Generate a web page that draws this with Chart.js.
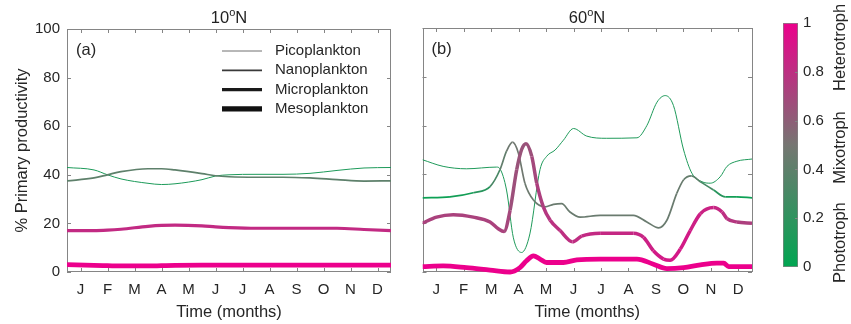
<!DOCTYPE html>
<html>
<head>
<meta charset="utf-8">
<script src="https://cdn.jsdelivr.net/npm/chart.js@4.4.1/dist/chart.umd.min.js"></script>
<style>
body { margin: 0; background: #fff; width: 851px; height: 324px; position: relative; overflow: hidden; font-family: "Liberation Sans", Arial, sans-serif; }
canvas { position: absolute; top: 0; }
.ttl { position: absolute; top: 6px; font-size: 16.5px; color: #222; transform: translateX(-50%); white-space: nowrap; }
.ttl sup { font-size: 11px; }
</style>
</head>
<body>
<canvas id="pa" width="400" height="324" style="left:0"></canvas>
<canvas id="pb" width="370" height="324" style="left:400px"></canvas>
<canvas id="cb" width="81" height="324" style="left:770px"></canvas>
<div class="ttl" style="left:229px">10<sup>o</sup>N</div>
<div class="ttl" style="left:587px">60<sup>o</sup>N</div>
<script>
// axis labels
const months = ['J', 'F', 'M', 'A', 'M', 'J', 'J', 'A', 'S', 'O', 'N', 'D'];
const monthTicks = [0.5, 1.5, 2.5, 3.5, 4.5, 5.5, 6.5, 7.5, 8.5, 9.5, 10.5, 11.5];
const yTicks = [0, 20, 40, 60, 80, 100];
const sizeNames = ['Picoplankton', 'Nanoplankton', 'Microplankton', 'Mesoplankton'];

// 10N panel (time in months, % primary productivity)
const aTime  = [0, 1, 1.5, 2, 3, 3.5, 4, 5, 5.5, 6, 7, 8, 9, 10, 11, 12];
const aPico  = [43, 42, 40, 38.3, 36.5, 36, 36.3, 38, 39.5, 40, 40.2, 40.2, 40.6, 41.8, 42.8, 43];
const aNano  = [37.5, 38.7, 40, 41.3, 42.5, 42.5, 42, 40.5, 39.6, 39.2, 39, 39, 38.7, 38, 37.4, 37.5];
const aMicro = [17, 17, 17.2, 17.6, 18.8, 19.2, 19.3, 19, 18.6, 18.3, 18, 18, 18, 18, 17.5, 17];
const aMeso  = [3, 2.7, 2.6, 2.5, 2.5, 2.6, 2.7, 2.8, 2.8, 2.8, 2.8, 2.8, 2.8, 2.8, 2.8, 2.8];
const aTrophic = [0.12, 0.4, 0.82, 1];

// 60N panel
const bPicoT = [0, 0.75, 1.6, 2.7, 2.82, 3.06, 3.31, 3.61, 3.91, 4.28, 4.52, 4.83, 5.13, 5.5, 5.98, 6.71, 7.81, 8.17, 8.54, 8.84, 9.14, 9.51, 9.81, 10.18, 10.48, 10.84, 11.09, 11.45, 12];
const bPicoY = [46, 43.3, 42.3, 43, 42.3, 33.6, 14, 8, 15.6, 42, 47.4, 50, 54, 58.8, 55.7, 54.8, 55, 60, 69.6, 72.3, 68.2, 50, 40.5, 37, 36.4, 39, 43.3, 45.4, 46.3];
const bPicoTrophic = 0.13;

const bNanoT = [0, 1, 1.85, 2.46, 2.82, 3.06, 3.28, 3.49, 3.73, 4.04, 4.46, 4.77, 5.07, 5.37, 5.74, 6.47, 7.68, 8.17, 8.6, 8.9, 9.26, 9.51, 9.79, 10.12, 10.6, 11.03, 11.45, 12];
const bNanoY = [30.4, 30.8, 32.5, 35, 41.9, 49.5, 53.2, 48.8, 36.4, 29.5, 26.7, 27.7, 28, 24.6, 22.5, 23.2, 23.2, 20.5, 18.1, 21.2, 32.2, 37.8, 39.4, 37, 33.6, 30.8, 30.8, 30.4];
const bNanoTrophic = [0.05, 0.06, 0.1, 0.25, 0.38, 0.45, 0.48, 0.48, 0.47, 0.45, 0.45, 0.45, 0.45, 0.45, 0.45, 0.45, 0.45, 0.45, 0.45, 0.45, 0.45, 0.44, 0.42, 0.35, 0.25, 0.1, 0.06, 0.05];

const bMicroT = [0, 0.51, 1.12, 1.85, 2.46, 2.76, 2.97, 3.19, 3.43, 3.61, 3.77, 3.98, 4.16, 4.4, 4.65, 5.01, 5.46, 5.8, 6.47, 7.68, 8.05, 8.41, 8.78, 9.02, 9.39, 9.75, 10.12, 10.6, 10.91, 11.09, 11.45, 12];
const bMicroY = [20, 22.5, 23.5, 22.5, 20.5, 17.7, 16.6, 25.3, 41.9, 50.2, 52.6, 47.4, 36.4, 26.7, 21.2, 17, 12.4, 14.7, 15.9, 15.9, 14.2, 8.7, 5.3, 4.8, 9.4, 17, 23.9, 26.4, 24.6, 21.9, 20.5, 20];
const bMicroTrophic = [0.72, 0.72, 0.72, 0.72, 0.72, 0.72, 0.72, 0.68, 0.65, 0.65, 0.65, 0.67, 0.72, 0.75, 0.78, 0.8, 0.8, 0.82, 0.83, 0.83, 0.85, 0.88, 0.9, 0.9, 0.9, 0.88, 0.86, 0.85, 0.82, 0.78, 0.75, 0.72];

const bMesoT = [0, 0.75, 1.6, 2.46, 3.19, 3.55, 3.79, 4.04, 4.28, 4.52, 5.13, 5.62, 6.47, 7.81, 8.41, 8.9, 9.51, 10.12, 10.72, 10.97, 11.15, 12];
const bMesoY = [2.2, 2.5, 1.8, 0.8, 0, 1.8, 4.6, 6.6, 5.3, 3.9, 3.9, 5, 5.3, 5.3, 3.2, 1.4, 1.8, 2.9, 3.6, 3.6, 2.2, 2.2];
const bMesoTrophic = 1;

// colour bar
const cbTicks = [0, 0.2, 0.4, 0.6, 0.8, 1];
const cbNames = ['Phototroph', 'Mixotroph', 'Heterotroph'];
const cbNamePos = [0.1, 0.49, 0.9];

const FONT = '"Liberation Sans", Arial, sans-serif';
const TXT = '#262626';
const BOX = '#858585';

function cmap(t) {
  const g = [0, 166, 81], m = [118, 118, 114], p = [236, 0, 140];
  let a, b, f;
  if (t <= 0.5) { a = g; b = m; f = t / 0.5; } else { a = m; b = p; f = (t - 0.5) / 0.5; }
  const c = a.map((v, i) => Math.round(v + (b[i] - v) * f));
  return 'rgb(' + c.join(',') + ')';
}

function series(xs, ys, troph, width, name) {
  const tr = Array.isArray(troph) ? troph : xs.map(() => troph);
  return {
    label: name,
    data: xs.map((x, i) => ({ x: x, y: ys[i] })),
    borderColor: cmap(tr[0]),
    borderWidth: width,
    pointRadius: 0,
    cubicInterpolationMode: 'monotone',
    clip: { left: 0, top: 0, right: 0, bottom: 5 },
    segment: { borderColor: c => cmap((tr[c.p0DataIndex] + tr[c.p1DataIndex]) / 2) }
  };
}

const widths = [1, 1.7, 3.2, 4.8];

const boxPlugin = {
  id: 'box',
  beforeDatasetsDraw(chart) {
    const { ctx, chartArea: a, scales: { x, y } } = chart;
    ctx.save();
    ctx.strokeStyle = BOX;
    ctx.lineWidth = 1;
    ctx.strokeRect(Math.round(a.left) + 0.5, Math.round(a.top) + 0.5, Math.round(a.width) - 1, Math.round(a.height) - 1);
    ctx.beginPath();
    monthTicks.forEach(m => {
      const px = Math.round(x.getPixelForValue(m)) + 0.5;
      ctx.moveTo(px, a.bottom); ctx.lineTo(px, a.bottom - 4);
      ctx.moveTo(px, a.top); ctx.lineTo(px, a.top + 4);
    });
    yTicks.forEach(v => {
      const py = Math.round(y.getPixelForValue(v)) + 0.5;
      ctx.moveTo(a.left, py); ctx.lineTo(a.left + 4, py);
      ctx.moveTo(a.right, py); ctx.lineTo(a.right - 4, py);
    });
    ctx.stroke();
    ctx.restore();
  }
};

const tagPlugin = {
  id: 'tag',
  afterDraw(chart, args, opts) {
    const { ctx, chartArea: a } = chart;
    ctx.save();
    ctx.fillStyle = TXT;
    ctx.font = '16.5px ' + FONT;
    ctx.textBaseline = 'middle';
    ctx.fillText(opts.text, a.left + 9, a.top + 21);
    if (opts.legend) {
      ctx.font = '15px ' + FONT;
      const cols = ['#707070', '#3a3a3a', '#1a1a1a', '#111'];
      sizeNames.forEach((n, i) => {
        const yy = a.top + 22 + i * 19.3;
        ctx.strokeStyle = cols[i];
        ctx.lineWidth = widths[i] + (i === 3 ? 0.5 : 0);
        ctx.beginPath();
        ctx.moveTo(a.left + 155, yy); ctx.lineTo(a.left + 195, yy);
        ctx.stroke();
        ctx.fillText(n, a.left + 208, yy);
      });
    }
    ctx.restore();
  }
};

function xScale() {
  return {
    type: 'linear', min: 0, max: 12,
    afterBuildTicks: s => { s.ticks = monthTicks.map(v => ({ value: v })); },
    ticks: { callback: (v, i) => months[i], autoSkip: false, maxRotation: 0, padding: 9, color: TXT, font: { family: FONT, size: 15 } },
    grid: { display: false, drawTicks: false },
    border: { display: false },
    title: { display: true, text: 'Time (months)', color: TXT, font: { family: FONT, size: 16.5 }, padding: { top: 0, bottom: 2 } },
    afterFit: s => { s.height = 52; }
  };
}

new Chart('pa', {
  type: 'line',
  data: {
    datasets: [
      series(aTime, aMeso, aTrophic[3], widths[3], sizeNames[3]),
      series(aTime, aMicro, aTrophic[2], widths[2], sizeNames[2]),
      series(aTime, aNano, aTrophic[1], widths[1], sizeNames[1]),
      series(aTime, aPico, aTrophic[0], widths[0], sizeNames[0])
    ]
  },
  options: {
    responsive: false,
    animation: false,
    layout: { padding: { top: 29, right: 9, left: 0, bottom: 0 } },
    plugins: { legend: { display: false }, tooltip: { enabled: false }, tag: { text: '(a)', legend: true } },
    scales: {
      x: xScale(),
      y: {
        min: 0, max: 100,
        afterBuildTicks: s => { s.ticks = yTicks.map(v => ({ value: v })); },
        ticks: { padding: 7, color: TXT, font: { family: FONT, size: 15 } },
        grid: { display: false, drawTicks: false },
        border: { display: false },
        title: { display: true, text: '% Primary productivity', color: TXT, font: { family: FONT, size: 16.5 }, padding: { top: 13, bottom: 0 } },
        afterFit: s => { s.width = 67; }
      }
    }
  },
  plugins: [boxPlugin, tagPlugin]
});

new Chart('pb', {
  type: 'line',
  data: {
    datasets: [
      series(bMesoT, bMesoY, bMesoTrophic, widths[3], sizeNames[3]),
      series(bMicroT, bMicroY, bMicroTrophic, widths[2] + 0.3, sizeNames[2]),
      series(bNanoT, bNanoY, bNanoTrophic, widths[1], sizeNames[1]),
      series(bPicoT, bPicoY, bPicoTrophic, widths[0], sizeNames[0])
    ]
  },
  options: {
    responsive: false,
    animation: false,
    layout: { padding: { top: 28, right: 18, left: 0, bottom: 0 } },
    plugins: { legend: { display: false }, tooltip: { enabled: false }, tag: { text: '(b)' } },
    scales: {
      x: xScale(),
      y: {
        min: 0, max: 100,
        afterBuildTicks: s => { s.ticks = yTicks.map(v => ({ value: v })); },
        ticks: { display: false },
        grid: { display: false, drawTicks: false },
        border: { display: false },
        afterFit: s => { s.width = 22.5; }
      }
    }
  },
  plugins: [boxPlugin, tagPlugin]
});

const cbNamesPlugin = {
  id: 'cbNames',
  afterDraw(chart) {
    const { ctx, chartArea: a, scales: { y } } = chart;
    ctx.save();
    ctx.strokeStyle = BOX;
    ctx.lineWidth = 1;
    ctx.beginPath();
    cbTicks.slice(1, -1).forEach(v => {
      const py = Math.round(y.getPixelForValue(v)) + 0.5;
      ctx.moveTo(a.right, py); ctx.lineTo(a.right - 3, py);
    });
    ctx.stroke();
    ctx.fillStyle = TXT;
    ctx.font = '16.5px ' + FONT;
    ctx.textAlign = 'center';
    ctx.textBaseline = 'middle';
    cbNames.forEach((n, i) => {
      ctx.save();
      ctx.translate(70, y.getPixelForValue(cbNamePos[i]));
      ctx.rotate(-Math.PI / 2);
      ctx.fillText(n, 0, 0);
      ctx.restore();
    });
    ctx.restore();
  }
};

new Chart('cb', {
  type: 'bar',
  data: {
    labels: [''],
    datasets: [{
      data: [[0, 1]],
      backgroundColor: c => {
        const a = c.chart.chartArea;
        if (!a) return BOX;
        const g = c.chart.ctx.createLinearGradient(0, a.bottom, 0, a.top);
        for (let i = 0; i <= 10; i++) g.addColorStop(i / 10, cmap(i / 10));
        return g;
      },
      borderColor: BOX,
      borderWidth: 1,
      borderSkipped: false,
      barPercentage: 1,
      categoryPercentage: 1
    }]
  },
  options: {
    responsive: false,
    animation: false,
    layout: { padding: { left: 13, top: 23, bottom: 57, right: 0 } },
    plugins: { legend: { display: false }, tooltip: { enabled: false } },
    scales: {
      x: { display: false },
      y: {
        position: 'right', min: 0, max: 1,
        afterBuildTicks: s => { s.ticks = cbTicks.map(v => ({ value: v })); },
        ticks: { padding: 5, color: TXT, font: { family: FONT, size: 15 }, callback: v => String(v) },
        grid: { display: false, drawTicks: false },
        border: { display: false },
        afterFit: s => { s.width = 53; }
      }
    }
  },
  plugins: [cbNamesPlugin]
});
</script>
</body>
</html>
